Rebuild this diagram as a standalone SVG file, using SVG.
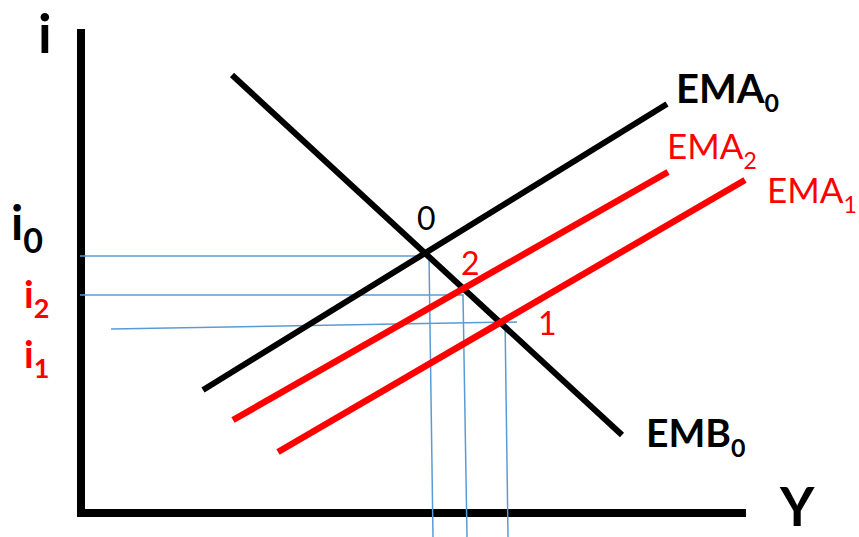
<svg xmlns="http://www.w3.org/2000/svg" width="859" height="537" viewBox="0 0 859 537">
<style>
.ax{stroke:#000;stroke-width:8;fill:none}
.blk{stroke:#000;stroke-width:6;fill:none;stroke-linecap:butt}
.red{stroke:#ff0000;stroke-width:6.5;fill:none}
.guide{stroke:#5b9bd5;stroke-width:1.5;fill:none}
text{font-family:Lato,"Open Sans","Liberation Sans",sans-serif}
.b{font-weight:bold;fill:#000}
.r{fill:#ff0000}
.k{fill:#000}
</style>
<rect width="859" height="537" fill="#fff"/>
<g id="axes">
<line class="ax" x1="81" y1="29" x2="81" y2="517"/>
<line class="ax" x1="77" y1="513" x2="746" y2="513"/>
<text class="b" x="38" y="53" font-size="54">i</text>
<text class="b" x="780" y="526" font-size="53">Y</text>
</g>
<g id="guides">
<polyline class="guide" points="80,256 429,256 433,537"/>
<polyline class="guide" points="80,295 463,295 467,537"/>
<line class="guide" x1="111" y1="329" x2="517" y2="322"/>
<line class="guide" x1="505" y1="317" x2="508" y2="537"/>
</g>
<g id="connectors">
<line id="EMB0-line" class="blk" x1="232" y1="75" x2="622" y2="435"/>
<line id="EMA0-line" class="blk" x1="203" y1="390" x2="667" y2="104"/>
<line id="EMA2-line" class="red" x1="233" y1="420" x2="668" y2="172"/>
<line id="EMA1-line" class="red" x1="278" y1="452" x2="745" y2="180"/>
</g>
<g id="EMA0"><text class="b" x="676" y="103" font-size="40">EMA<tspan font-size="25" dy="9">0</tspan></text></g>
<g id="EMA2"><text class="r" x="667" y="159" font-size="35">EMA<tspan font-size="23" dy="10">2</tspan></text></g>
<g id="EMA1"><text class="r" x="767" y="203" font-size="35">EMA<tspan font-size="23" dy="10">1</tspan></text></g>
<g id="EMB0"><text class="b" x="646" y="447" font-size="39">EMB<tspan font-size="25" dy="10">0</tspan></text></g>
<g id="i0"><text class="b" x="11" y="240" font-size="48">i<tspan font-size="34" dy="13">0</tspan></text></g>
<g id="i2"><text class="b r" x="24" y="308" font-size="38">i<tspan font-size="27" dy="10">2</tspan></text></g>
<g id="i1"><text class="b r" x="24" y="368" font-size="38">i<tspan font-size="27" dy="10">1</tspan></text></g>
<g id="pt0"><text class="k" x="417" y="230" font-size="32">0</text></g>
<g id="pt2"><text class="r" x="461" y="275" font-size="32">2</text></g>
<g id="pt1"><text class="r" x="538" y="335" font-size="32">1</text></g>
</svg>
